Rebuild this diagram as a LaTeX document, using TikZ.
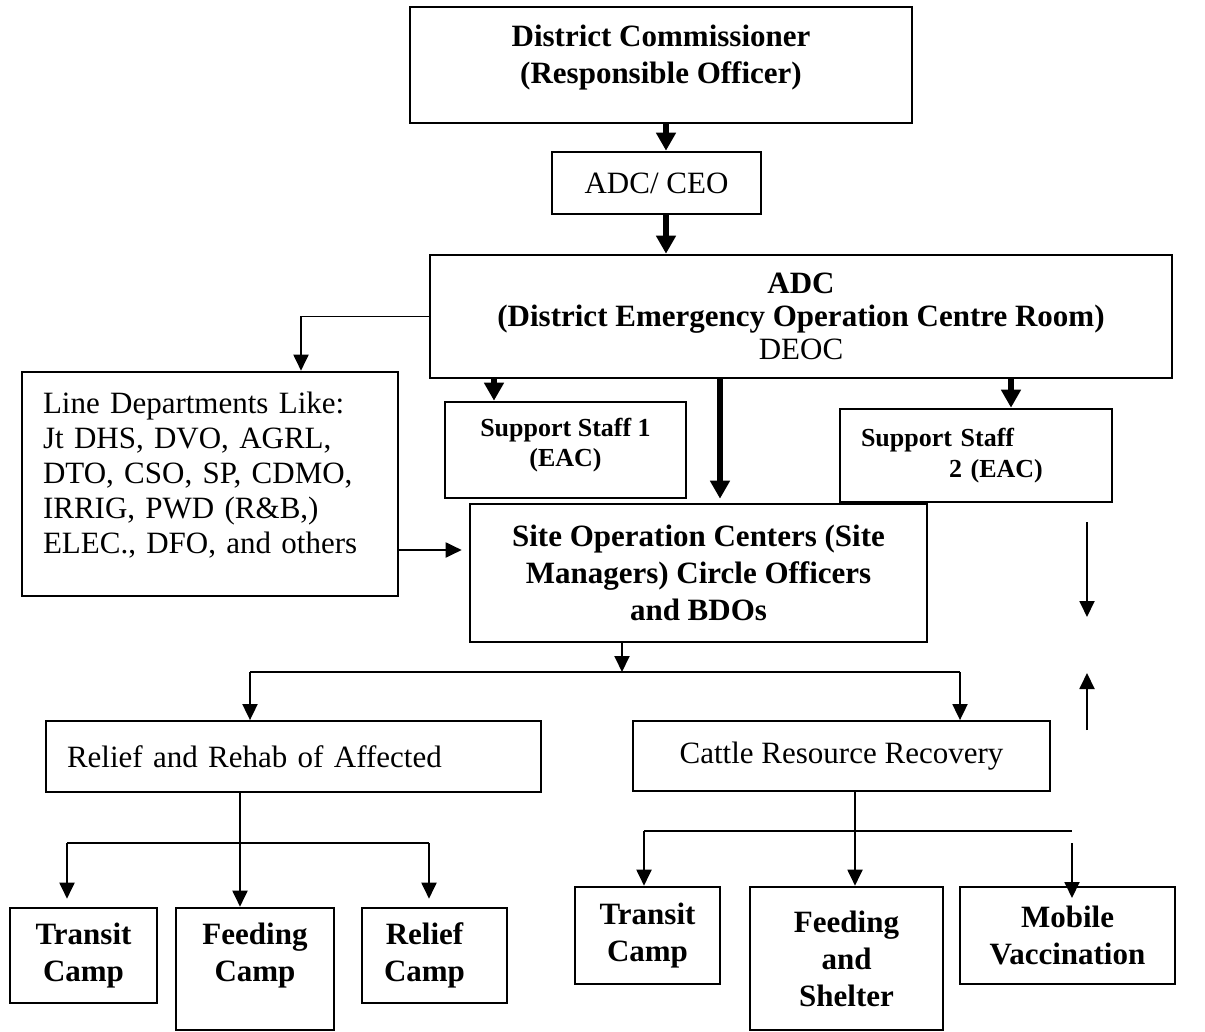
\documentclass[tikz,border=0pt]{standalone}
\usepackage{fontspec}
\setmainfont{Liberation Serif}
\usetikzlibrary{arrows.meta}
\begin{document}
\begin{tikzpicture}[x=1pt,y=-1pt,
  box/.style={draw, line width=2.6pt, inner sep=0pt, align=center},
  rmf/.style={font=\fontsize{31}{36}\selectfont},
  bff/.style={font=\bfseries\fontsize{31}{37}\selectfont},
  ssf/.style={font=\bfseries\fontsize{26}{30}\selectfont},
  thickarr/.style={line width=6pt, -{Triangle[width=19pt,length=18pt]}},
  thinarr/.style={line width=1.9pt, -{Triangle[width=15pt,length=16pt]}},
  thinline/.style={line width=1.9pt}]
\useasboundingbox[fill=white] (0,0) rectangle (1205,1032);

% boxes
\node[box, bff, minimum width=502pt, minimum height=116pt] (dc) at (661,65)
  {District Commissioner\\(Responsible Officer)\\[-16pt]\mbox{}};
\node[box, rmf, minimum width=209pt, minimum height=62pt] (ceo) at (656.5,183) {ADC/ CEO};
\node[box, font=\fontsize{31}{33}\selectfont, minimum width=742pt, minimum height=123pt] (adc) at (801,316.5)
  {\textbf{ADC}\\\textbf{(District Emergency Operation Centre Room)}\\DEOC};
\node[box, font=\fontsize{31}{35}\selectfont, align=left, text width=334pt, inner xsep=21pt,
  minimum width=376pt, minimum height=224pt] (ld) at (210,484)
  {Line Departments Like:\\Jt DHS, DVO, AGRL,\\DTO, CSO, SP, CDMO,\\IRRIG, PWD (R\&B,)\\ELEC., DFO, and others\\[-13pt]\mbox{}};
\node[box, ssf, minimum width=241pt, minimum height=96pt] (ss1) at (565.5,450)
  {Support Staff 1\\(EAC)\\[-15pt]\mbox{}};
\node[box, font=\bfseries\fontsize{26}{31}\selectfont, align=left, text width=230pt, inner xsep=21pt,
  minimum width=272pt, minimum height=93pt] (ss2) at (976,455.5)
  {Support Staff\\\hspace*{88pt}2 (EAC)};
\node[box, bff, minimum width=457pt, minimum height=138pt] (site) at (698.5,573)
  {Site Operation Centers (Site\\Managers) Circle Officers\\and BDOs};
\node[box, line width=1.8pt, rmf, align=left, text width=453pt, inner xsep=21pt,
  minimum width=495pt, minimum height=71pt] (relief) at (293.5,756.5) {Relief and Rehab of Affected};
\node[box, line width=1.8pt, rmf, minimum width=417pt, minimum height=70pt] (cattle) at (841.5,756)
  {Cattle Resource Recovery};
\node[box, bff, minimum width=147pt, minimum height=95pt] (tc1) at (83.5,955.5) {Transit\\Camp};
\node[box, bff, minimum width=158pt, minimum height=122pt] (fc) at (255,969) {Feeding\\Camp\\[-4pt]\mbox{}};
\node[box, bff, minimum width=145pt, minimum height=95pt] (rc) at (434.5,955.5) {Relief\kern20pt\\Camp\kern20pt};
\node[box, bff, minimum width=145pt, minimum height=97pt] (tc2) at (647.5,935.5) {Transit\\Camp};
\node[box, bff, minimum width=193pt, minimum height=143pt] (fs) at (846.5,958.5) {Feeding\\and\\Shelter};
\node[box, bff, minimum width=215pt, minimum height=97pt] (mv) at (1067.5,935.5) {Mobile\\Vaccination};

% thick connectors
\coordinate (xa) at (666,0);
\coordinate (xb) at (494,0);
\coordinate (xc) at (720,0);
\coordinate (xd) at (1011,0);
\draw[thickarr] (dc.south -| xa) -- (ceo.north -| xa);
\draw[thickarr] (ceo.south -| xa) -- (adc.north -| xa);
\draw[thickarr] (adc.south -| xb) -- (ss1.north -| xb);
\draw[thickarr, shorten >=4pt] (adc.south -| xc) -- (site.north -| xc);
\draw[thickarr] (adc.south -| xd) -- (ss2.north -| xd);

% line departments
\coordinate (xe) at (301,0);
\coordinate (ye) at (0,550);
\draw[thinarr] (adc.west) -| (ld.north -| xe);
\draw[thinarr, shorten >=7pt] (ld.east |- ye) -- (site.west |- ye);

% split below site
\coordinate (s1) at (622,672);
\coordinate (hl) at (250,672);
\coordinate (hr) at (960,672);
\draw[thinarr] (site.south -| s1) -- (s1);
\draw[thinline] (hl) -- (hr);
\draw[thinarr] (hl) -- (relief.north -| hl);
\draw[thinarr] (hr) -- (cattle.north -| hr);

% relief subtree
\coordinate (r0) at (240,843);
\coordinate (rl) at (67,843);
\coordinate (rr) at (429,843);
\draw[thinarr] (relief.south -| r0) -- (fc.north -| r0);
\draw[thinline] (rl) -- (rr);
\draw[thinarr, shorten >=8pt] (rl) -- (tc1.north -| rl);
\draw[thinarr, shorten >=8pt] (rr) -- (rc.north -| rr);

% cattle subtree
\coordinate (c0) at (855,831);
\coordinate (cl) at (644,831);
\coordinate (cr) at (1072,831);
\coordinate (m1) at (1072,843);
\coordinate (m2) at (1072,898);
\draw[thinarr] (cattle.south -| c0) -- (fs.north -| c0);
\draw[thinline] (cl) -- (cr);
\draw[thinarr] (cl) -- (tc2.north -| cl);
\draw[thinarr] (m1) -- (m2);

% right-hand arrows
\coordinate (q1) at (1087,522);
\coordinate (q2) at (1087,617);
\coordinate (q3) at (1087,730);
\coordinate (q4) at (1087,673);
\draw[thinarr] (q1) -- (q2);
\draw[thinarr] (q3) -- (q4);
\end{tikzpicture}
\end{document}
